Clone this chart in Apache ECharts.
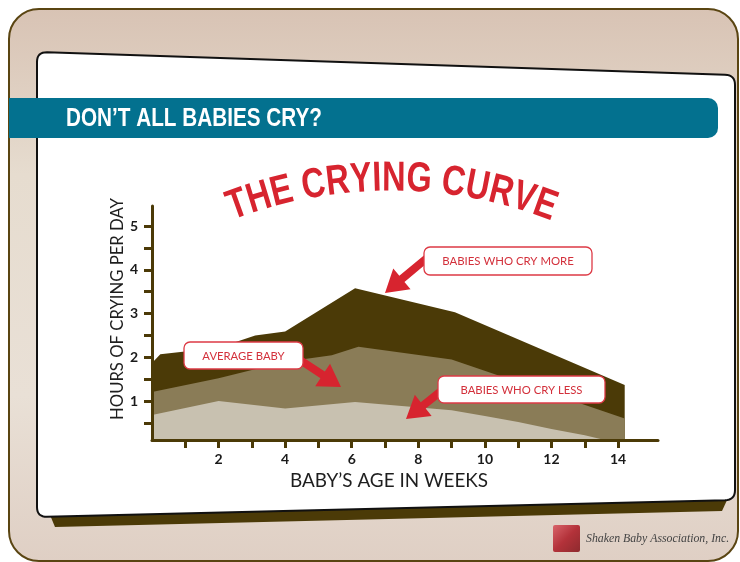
<!DOCTYPE html>
<html>
<head>
<meta charset="utf-8">
<script src="https://cdn.jsdelivr.net/npm/echarts@6/dist/echarts.min.js"></script>
<style>
html,body{margin:0;padding:0;background:#fff;}
#chart{width:740px;height:562px;}
</style>
</head>
<body>
<div id="chart"></div>
<script>
// ---- data ----
const weeksMore = [0, 0.25, 2, 3.1, 4, 6.1, 9.1, 14.2];
const hoursMore = [1.87, 2.07, 2.22, 2.5, 2.59, 3.58, 3.03, 1.37];
const weeksAvg = [0, 2, 4, 5.4, 6.2, 9, 14.2];
const hoursAvg = [1.21, 1.52, 1.9, 2.05, 2.24, 1.95, 0.6];
const weeksLess = [0, 2, 4, 6.1, 9, 10, 11, 12, 13, 13.6];
const hoursLess = [0.68, 1.0, 0.83, 0.98, 0.79, 0.66, 0.52, 0.36, 0.22, 0.11];
const xTickWeeks = [1, 2, 3, 4, 5, 6, 7, 8, 9, 10, 11, 12, 13, 14];
const xLabelWeeks = [2, 4, 6, 8, 10, 12, 14];
const yTickHours = [0.5, 1, 1.5, 2, 2.5, 3, 3.5, 4, 4.5, 5];
const yLabelHours = [1, 2, 3, 4, 5];

const banner = "DON\u2019T ALL BABIES CRY?";
const chartTitle = "THE CRYING CURVE";
const yName = "HOURS OF CRYING PER DAY";
const xName = "BABY\u2019S AGE IN WEEKS";
const noteMore = "BABIES WHO CRY MORE";
const noteAvg = "AVERAGE BABY";
const noteLess = "BABIES WHO CRY LESS";
const credit = "Shaken Baby Association, Inc.";

const C_DARK = '#4b3a07', C_MID = '#8a7c57', C_LIGHT = '#c8c1b0';
const C_RED = '#d7242f', C_BLUE = '#03718f';

const mctx = document.createElement('canvas').getContext('2d');
function widthOf(text, font) { mctx.font = font; return mctx.measureText(text).width; }
function fitSize(text, family, weight, style, target) {
  return 100 * target / widthOf(text, style + ' ' + weight + ' 100px ' + family);
}
function pairs(xs, ys) { return xs.map((x, i) => [x, ys[i]]); }

function arrow(x1, y1, x2, y2, sw, hw, hl) {
  const dx = x2 - x1, dy = y2 - y1, L = Math.hypot(dx, dy);
  const ux = dx / L, uy = dy / L, px = -uy, py = ux;
  const bx = x2 - ux * hl, by = y2 - uy * hl;
  return [
    [x1 + px * sw / 2, y1 + py * sw / 2],
    [bx + px * sw / 2, by + py * sw / 2],
    [bx + px * hw / 2, by + py * hw / 2],
    [x2, y2],
    [bx - px * hw / 2, by - py * hw / 2],
    [bx - px * sw / 2, by - py * sw / 2],
    [x1 - px * sw / 2, y1 - py * sw / 2]
  ];
}
function roundedQuad(corners, r) {
  const pts = [];
  const n = corners.length;
  for (let i = 0; i < n; i++) {
    const p = corners[i], a = corners[(i + n - 1) % n], b = corners[(i + 1) % n];
    const la = Math.hypot(a[0] - p[0], a[1] - p[1]), lb = Math.hypot(b[0] - p[0], b[1] - p[1]);
    const s = [p[0] + (a[0] - p[0]) * r / la, p[1] + (a[1] - p[1]) * r / la];
    const e = [p[0] + (b[0] - p[0]) * r / lb, p[1] + (b[1] - p[1]) * r / lb];
    for (let k = 0; k <= 8; k++) {
      const t = k / 8, u = 1 - t;
      pts.push([u * u * s[0] + 2 * u * t * p[0] + t * t * e[0], u * u * s[1] + 2 * u * t * p[1] + t * t * e[1]]);
    }
  }
  return pts;
}

const boldFam = '"Liberation Sans", Arial, sans-serif';
const plainFam = 'Lato, "Noto Sans", sans-serif';

const graphics = [];
// outer frame
graphics.push({
  type: 'rect', z: -10, silent: true,
  shape: { x: 9, y: 9, width: 729, height: 552, r: 30 },
  style: {
    fill: new echarts.graphic.LinearGradient(0, 0, 0, 1, [
      { offset: 0, color: '#d8c3b4' }, { offset: 0.3, color: '#e6dccf' },
      { offset: 0.7, color: '#e9e0d6' }, { offset: 1, color: '#dfcfc4' }]),
    stroke: '#5a4512', lineWidth: 2
  }
});
// card shadow
graphics.push({
  type: 'polygon', z: -9, silent: true,
  shape: { points: [[50, 515], [728, 498], [722, 511], [55, 527]] },
  style: { fill: C_DARK }
});
// white card
graphics.push({
  type: 'polygon', z: -8, silent: true,
  shape: { points: roundedQuad([[37, 52], [735, 75], [735, 500], [37, 517]], 10) },
  style: { fill: '#fff', stroke: '#111', lineWidth: 2 }
});
// banner
graphics.push({
  type: 'rect', z: -7, silent: true,
  shape: { x: 9, y: 98, width: 709, height: 40, r: [0, 10, 10, 0] },
  style: { fill: C_BLUE }
});
const bFont = 'bold 26px ' + boldFam;
const bScale = 256 / widthOf(banner, bFont);
graphics.push({
  type: 'text', z: -6, silent: true, x: 66, y: 119, scaleX: bScale,
  style: { text: banner, fill: '#fff', font: bFont, verticalAlign: 'middle' }
});

// arced title
(function () {
  const font = 'bold 42px ' + boldFam;
  const arcLen = 322;
  const total0 = widthOf(chartTitle, font);
  const sx = arcLen / total0;
  const R = 440, cx = 391, cy = 194 + R;
  let s = -arcLen / 2;
  for (const ch of chartTitle) {
    const w = widthOf(ch, font) * sx;
    const mid = s + w / 2;
    s += w;
    if (ch === ' ') continue;
    const phi = mid / R;
    const rr = R + 0.36 * 42;
    graphics.push({
      type: 'text', z: 50, silent: true, scaleX: sx,
      x: cx + rr * Math.sin(phi), y: cy - rr * Math.cos(phi), rotation: -phi,
      style: { text: ch, fill: C_RED, font: font, align: 'center', verticalAlign: 'middle' }
    });
  }
})();

// axis names
const yNSize = fitSize(yName, plainFam, 'normal', 'normal', 222);
graphics.push({
  type: 'text', z: 50, silent: true, x: 117.5, y: 309, rotation: Math.PI / 2,
  style: { text: yName, fill: '#1e1e1e', font: 'normal ' + yNSize.toFixed(1) + 'px ' + plainFam, align: 'center', verticalAlign: 'middle' }
});
const xNSize = fitSize(xName, plainFam, 'normal', 'normal', 198);
graphics.push({
  type: 'text', z: 50, silent: true, x: 389, y: 481,
  style: { text: xName, fill: '#1e1e1e', font: 'normal ' + xNSize.toFixed(1) + 'px ' + plainFam, align: 'center', verticalAlign: 'middle' }
});

// arrows
[[427, 258, 385, 293], [300, 360, 341, 387], [440, 392, 406, 419]].forEach(a => {
  graphics.push({ type: 'polygon', z: 60, silent: true, shape: { points: arrow(a[0], a[1], a[2], a[3], 8, 27, 22) }, style: { fill: C_RED } });
});
// note boxes
function note(text, x, y, w, h, tw) {
  graphics.push({ type: 'rect', z: 61, silent: true, shape: { x: x, y: y, width: w, height: h, r: 6 }, style: { fill: '#fff', stroke: '#dd3a45', lineWidth: 1.3 } });
  const sz = fitSize(text, plainFam, 'normal', 'normal', tw);
  graphics.push({ type: 'text', z: 62, silent: true, x: x + w / 2, y: y + h / 2 + 0.5, style: { text: text, fill: '#d3303b', font: 'normal ' + sz.toFixed(1) + 'px ' + plainFam, align: 'center', verticalAlign: 'middle' } });
}
note(noteMore, 424, 247, 168, 28, 132);
note(noteAvg, 184, 342, 119, 27, 82);
note(noteLess, 438, 376, 167, 27, 122);

// logo
graphics.push({
  type: 'rect', z: -5, silent: true, shape: { x: 553, y: 525, width: 27, height: 27, r: 2 },
  style: { fill: new echarts.graphic.LinearGradient(0, 0, 1, 1, [{ offset: 0, color: '#d9646a' }, { offset: 0.5, color: '#b3323a' }, { offset: 1, color: '#8e2a2e' }]) }
});
const credSize = fitSize(credit, '"Liberation Serif",serif', 'normal', 'italic', 143);
graphics.push({
  type: 'text', z: -5, silent: true, x: 586, y: 539,
  style: { text: credit, fill: '#444', font: 'italic normal ' + credSize.toFixed(1) + 'px "Liberation Serif",serif', verticalAlign: 'middle' }
});

const axisCol = C_DARK;
const chart = echarts.init(document.getElementById('chart'), null, { renderer: 'canvas' });
chart.setOption({
  animation: false,
  grid: { left: 152, top: 206, right: 82, bottom: 122 },
  xAxis: {
    type: 'value', min: 0, max: 15.2, z: 5,
    axisLine: { show: true, lineStyle: { color: axisCol, width: 3 } },
    axisTick: { show: true, length: 8, customValues: xTickWeeks, lineStyle: { color: axisCol, width: 3 } },
    axisLabel: { customValues: xLabelWeeks, margin: 12, color: '#1a1a1a', fontWeight: 'bold', fontSize: 14, fontFamily: plainFam },
    splitLine: { show: false }
  },
  yAxis: {
    type: 'value', min: 0.11, max: 5.46, z: 5,
    axisLine: { show: true, lineStyle: { color: axisCol, width: 3 } },
    axisTick: { show: true, length: 8, customValues: yTickHours, lineStyle: { color: axisCol, width: 3 } },
    axisLabel: { customValues: yLabelHours, margin: 14, color: '#1a1a1a', fontWeight: 'bold', fontSize: 14, fontFamily: plainFam },
    splitLine: { show: false }
  },
  series: [
    { name: 'Babies who cry more', type: 'line', data: pairs(weeksMore, hoursMore), symbol: 'none', lineStyle: { width: 0 }, areaStyle: { color: C_DARK, opacity: 1, origin: 'start' }, z: 2 },
    { name: 'Average baby', type: 'line', data: pairs(weeksAvg, hoursAvg), symbol: 'none', lineStyle: { width: 0 }, areaStyle: { color: C_MID, opacity: 1, origin: 'start' }, z: 3 },
    { name: 'Babies who cry less', type: 'line', data: pairs(weeksLess, hoursLess), symbol: 'none', lineStyle: { width: 0 }, areaStyle: { color: C_LIGHT, opacity: 1, origin: 'start' }, z: 4 }
  ],
  graphic: { elements: graphics }
});
</script>
</body>
</html>
